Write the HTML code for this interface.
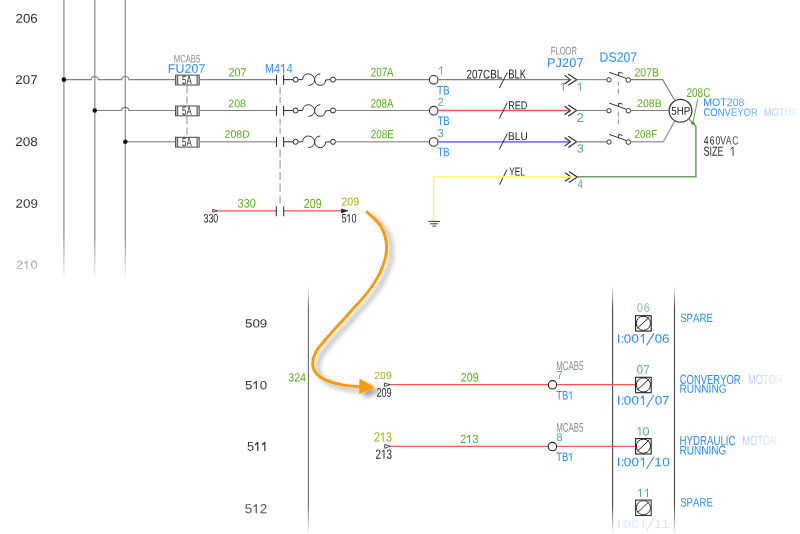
<!DOCTYPE html>
<html><head><meta charset="utf-8"><style>
html,body{margin:0;padding:0;background:#fff;}
svg{display:block;will-change:transform;}
text{font-family:"Liberation Sans",sans-serif;font-kerning:none;}
</style></head><body>
<svg width="800" height="534" viewBox="0 0 800 534">
<rect width="800" height="534" fill="#fff"/>

<defs>
  <linearGradient id="gtop" x1="0" y1="0" x2="0" y2="1" gradientUnits="objectBoundingBox">
    <stop offset="0" stop-color="#fff"/>
    <stop offset="0.84" stop-color="#fff"/>
    <stop offset="1" stop-color="#000"/>
  </linearGradient>
  <mask id="mtop" maskUnits="userSpaceOnUse" x="0" y="0" width="800" height="280">
    <rect x="0" y="0" width="800" height="280" fill="url(#gtop)"/>
  </mask>
  <linearGradient id="gbot" x1="0" y1="286" x2="0" y2="534" gradientUnits="userSpaceOnUse">
    <stop offset="0" stop-color="#000"/>
    <stop offset="0.09" stop-color="#fff"/>
    <stop offset="0.88" stop-color="#fff"/>
    <stop offset="1" stop-color="#000"/>
  </linearGradient>
  <mask id="mbot" maskUnits="userSpaceOnUse" x="0" y="280" width="800" height="254">
    <rect x="0" y="280" width="800" height="254" fill="url(#gbot)"/>
  </mask>
  <linearGradient id="fadeR1" x1="0" y1="0" x2="1" y2="0">
    <stop offset="0" stop-color="#2d8bff" stop-opacity="0.42"/>
    <stop offset="1" stop-color="#2d8bff" stop-opacity="0.1"/>
  </linearGradient>
  <linearGradient id="fadeR2" x1="0" y1="0" x2="1" y2="0">
    <stop offset="0" stop-color="#2d8bff" stop-opacity="0.42"/>
    <stop offset="1" stop-color="#2d8bff" stop-opacity="0.1"/>
  </linearGradient>
  <linearGradient id="fadeR3" x1="0" y1="0" x2="1" y2="0">
    <stop offset="0" stop-color="#2d8bff" stop-opacity="0.42"/>
    <stop offset="1" stop-color="#2d8bff" stop-opacity="0.12"/>
  </linearGradient>
  <linearGradient id="gright" x1="700" y1="0" x2="800" y2="0" gradientUnits="userSpaceOnUse">
    <stop offset="0.12" stop-color="#fff"/>
    <stop offset="0.57" stop-color="#fff" stop-opacity="0.6"/>
    <stop offset="0.65" stop-color="#fff" stop-opacity="0.45"/>
    <stop offset="1" stop-color="#fff" stop-opacity="0.08"/>
  </linearGradient>
  <mask id="mright" maskUnits="userSpaceOnUse" x="690" y="80" width="110" height="90">
    <rect x="690" y="80" width="110" height="90" fill="url(#gright)"/>
  </mask>
  <filter id="sh" x="-20%" y="-10%" width="150%" height="130%">
    <feGaussianBlur in="SourceAlpha" stdDeviation="2.5" result="b"/>
    <feOffset in="b" dx="4.5" dy="3.5" result="o"/>
    <feComponentTransfer in="o" result="s"><feFuncA type="linear" slope="0.38"/></feComponentTransfer>
    <feFlood flood-color="#000"/>
    <feComposite in2="s" operator="in" result="sc"/>
    <feMerge><feMergeNode in="sc"/><feMergeNode in="SourceGraphic"/></feMerge>
  </filter>
</defs>

<g mask="url(#mtop)">
<line x1="63.9" y1="0" x2="63.9" y2="278" stroke="#8a8a8a" stroke-width="1.2"/>
<line x1="94.8" y1="0" x2="94.8" y2="278" stroke="#8a8a8a" stroke-width="1.2"/>
<line x1="125.3" y1="0" x2="125.3" y2="278" stroke="#8a8a8a" stroke-width="1.2"/>
<path d="M63.9,79.65 L91.2,79.65 C91.2,75.45 98.39999999999999,75.45 98.39999999999999,79.65 L121.7,79.65 C121.7,75.45 128.9,75.45 128.9,79.65 L175.3,79.65" stroke="#808080" stroke-width="1.1" fill="none"/>
<path d="M94.8,110.5 L121.7,110.5 C121.7,106.3 128.9,106.3 128.9,110.5 L175.3,110.5" stroke="#808080" stroke-width="1.1" fill="none"/>
<path d="M125.3,141.8 L175.3,141.8" stroke="#a2a2a2" stroke-width="1.6" fill="none"/>
</g>
<circle cx="63.9" cy="79.65" r="2.3" stroke="#111" stroke-width="0" fill="#111"/>
<circle cx="94.8" cy="110.5" r="2.3" stroke="#111" stroke-width="0" fill="#111"/>
<circle cx="125.3" cy="141.8" r="2.3" stroke="#111" stroke-width="0" fill="#111"/>
<path d="M187.0,85.6 L187.0,93.4 M187.0,96.4 L187.0,103.4 M187.0,116.6 L187.0,124.3 M187.0,127.3 L187.0,134.6" stroke="#a8a8a8" stroke-width="1.3" fill="none"/>
<path d="M280.1,87.2 L280.1,94.5 M280.1,97.1 L280.1,103.0 M280.1,118.7 L280.1,125.3 M280.1,127.2 L280.1,133.8 M280.1,149.2 L280.1,157.0 M280.1,160.3 L280.1,168.8 M280.1,172.1 L280.1,180.0 M280.1,183.2 L280.1,191.8 M280.1,195.7 L280.1,203.6" stroke="#a8a8a8" stroke-width="1.3" fill="none"/>
<path d="M618.5,81.2 L618.5,85.8 M618.5,88.5 L618.5,93.7 M618.5,111.4 L618.5,116.6 M618.5,119.2 L618.5,124.5" stroke="#a0a0a0" stroke-width="1.2" fill="none"/>
<rect x="175.6" y="75.15" width="23.6" height="9.8" fill="#fff" stroke="#444" stroke-width="1"/>
<rect x="176.1" y="75.65" width="1.6" height="8.8" fill="#b0b0b0"/>
<rect x="197.1" y="75.65" width="1.6" height="8.8" fill="#b0b0b0"/>
<line x1="177.7" y1="75.15" x2="177.7" y2="84.95" stroke="#444" stroke-width="0.9"/>
<line x1="197.1" y1="75.15" x2="197.1" y2="84.95" stroke="#444" stroke-width="0.9"/>
<text transform="matrix(0.6470,0.001,0,1,182.09,83.93)" font-size="12.039" fill="#1e1e1e">5A</text>
<line x1="199.2" y1="79.65" x2="276.5" y2="79.65" stroke="#808080" stroke-width="1.1"/>
<line x1="276.5" y1="74.85000000000001" x2="276.5" y2="84.85000000000001" stroke="#333" stroke-width="1.1"/>
<line x1="283.6" y1="74.85000000000001" x2="283.6" y2="84.85000000000001" stroke="#333" stroke-width="1.1"/>
<line x1="283.6" y1="79.65" x2="293" y2="79.65" stroke="#333" stroke-width="1.1"/>
<circle cx="295.6" cy="79.65" r="2.5" stroke="#222" stroke-width="1.0" fill="#fff"/>
<path d="M298.1,79.65 L302.6,79.65 L302.9,78.05000000000001 C303.5,75.05000000000001 306,73.85000000000001 308.5,73.85000000000001 C312,73.85000000000001 314.5,76.85000000000001 314.6,79.65 C314.7,82.65 312.5,85.15 308.3,85.45" stroke="#333" stroke-width="1.0" fill="none"/>
<path d="M320.3,73.85000000000001 C317,73.85000000000001 314.6,76.65 314.6,79.65 C314.6,82.85000000000001 317,85.45 320.3,85.45 C323.5,85.45 325.4,83.15 325.6,79.95 L330.4,79.65" stroke="#333" stroke-width="1.0" fill="none"/>
<circle cx="333.0" cy="79.65" r="2.5" stroke="#222" stroke-width="1.0" fill="#fff"/>
<line x1="335.5" y1="79.65" x2="429.3" y2="79.65" stroke="#808080" stroke-width="1.1"/>
<rect x="175.6" y="106.0" width="23.6" height="9.8" fill="#fff" stroke="#444" stroke-width="1"/>
<rect x="176.1" y="106.5" width="1.6" height="8.8" fill="#b0b0b0"/>
<rect x="197.1" y="106.5" width="1.6" height="8.8" fill="#b0b0b0"/>
<line x1="177.7" y1="106.0" x2="177.7" y2="115.8" stroke="#444" stroke-width="0.9"/>
<line x1="197.1" y1="106.0" x2="197.1" y2="115.8" stroke="#444" stroke-width="0.9"/>
<text transform="matrix(0.6470,0.001,0,1,182.09,114.78)" font-size="12.039" fill="#1e1e1e">5A</text>
<line x1="199.2" y1="110.5" x2="276.5" y2="110.5" stroke="#808080" stroke-width="1.1"/>
<line x1="276.5" y1="105.7" x2="276.5" y2="115.7" stroke="#333" stroke-width="1.1"/>
<line x1="283.6" y1="105.7" x2="283.6" y2="115.7" stroke="#333" stroke-width="1.1"/>
<line x1="283.6" y1="110.5" x2="293" y2="110.5" stroke="#333" stroke-width="1.1"/>
<circle cx="295.6" cy="110.5" r="2.5" stroke="#222" stroke-width="1.0" fill="#fff"/>
<path d="M298.1,110.5 L302.6,110.5 L302.9,108.9 C303.5,105.9 306,104.7 308.5,104.7 C312,104.7 314.5,107.7 314.6,110.5 C314.7,113.5 312.5,116.0 308.3,116.3" stroke="#333" stroke-width="1.0" fill="none"/>
<path d="M320.3,104.7 C317,104.7 314.6,107.5 314.6,110.5 C314.6,113.7 317,116.3 320.3,116.3 C323.5,116.3 325.4,114.0 325.6,110.8 L330.4,110.5" stroke="#333" stroke-width="1.0" fill="none"/>
<circle cx="333.0" cy="110.5" r="2.5" stroke="#222" stroke-width="1.0" fill="#fff"/>
<line x1="335.5" y1="110.5" x2="429.3" y2="110.5" stroke="#808080" stroke-width="1.1"/>
<rect x="175.6" y="137.3" width="23.6" height="9.8" fill="#fff" stroke="#444" stroke-width="1"/>
<rect x="176.1" y="137.8" width="1.6" height="8.8" fill="#b0b0b0"/>
<rect x="197.1" y="137.8" width="1.6" height="8.8" fill="#b0b0b0"/>
<line x1="177.7" y1="137.3" x2="177.7" y2="147.10000000000002" stroke="#444" stroke-width="0.9"/>
<line x1="197.1" y1="137.3" x2="197.1" y2="147.10000000000002" stroke="#444" stroke-width="0.9"/>
<text transform="matrix(0.6470,0.001,0,1,182.09,146.08)" font-size="12.039" fill="#1e1e1e">5A</text>
<line x1="199.2" y1="141.8" x2="276.5" y2="141.8" stroke="#a2a2a2" stroke-width="1.6"/>
<line x1="276.5" y1="137.0" x2="276.5" y2="147.0" stroke="#333" stroke-width="1.1"/>
<line x1="283.6" y1="137.0" x2="283.6" y2="147.0" stroke="#333" stroke-width="1.1"/>
<line x1="283.6" y1="141.8" x2="293" y2="141.8" stroke="#333" stroke-width="1.1"/>
<circle cx="295.6" cy="141.8" r="2.5" stroke="#222" stroke-width="1.0" fill="#fff"/>
<path d="M298.1,141.8 L302.6,141.8 L302.9,140.20000000000002 C303.5,137.20000000000002 306,136.0 308.5,136.0 C312,136.0 314.5,139.0 314.6,141.8 C314.7,144.8 312.5,147.3 308.3,147.60000000000002" stroke="#333" stroke-width="1.0" fill="none"/>
<path d="M320.3,136.0 C317,136.0 314.6,138.8 314.6,141.8 C314.6,145.0 317,147.60000000000002 320.3,147.60000000000002 C323.5,147.60000000000002 325.4,145.3 325.6,142.10000000000002 L330.4,141.8" stroke="#333" stroke-width="1.0" fill="none"/>
<circle cx="333.0" cy="141.8" r="2.5" stroke="#222" stroke-width="1.0" fill="#fff"/>
<line x1="335.5" y1="141.8" x2="429.3" y2="141.8" stroke="#a2a2a2" stroke-width="1.6"/>
<circle cx="433.7" cy="79.85000000000001" r="4.3" stroke="#333" stroke-width="1.1" fill="#fff"/>
<circle cx="433.7" cy="110.7" r="4.3" stroke="#333" stroke-width="1.1" fill="#fff"/>
<circle cx="433.7" cy="142.0" r="4.3" stroke="#333" stroke-width="1.1" fill="#fff"/>
<line x1="438.0" y1="79.65" x2="569.5" y2="79.65" stroke="#808080" stroke-width="1.1"/>
<line x1="438.0" y1="110.5" x2="569.0" y2="110.5" stroke="#ff5555" stroke-width="1.3"/>
<line x1="438.0" y1="141.8" x2="569.0" y2="141.8" stroke="#7c7cff" stroke-width="1.8"/>
<line x1="499.3" y1="88.2" x2="507.3" y2="72.4" stroke="#222" stroke-width="1.0"/>
<line x1="499.3" y1="118.5" x2="507.3" y2="102.6" stroke="#222" stroke-width="1.0"/>
<line x1="499.3" y1="149.5" x2="507.3" y2="133.6" stroke="#222" stroke-width="1.0"/>
<line x1="499.5" y1="184.7" x2="507.0" y2="169.7" stroke="#222" stroke-width="1.0"/>
<path d="M564.5,75.35000000000001 L570.5,79.65 L564.5,83.95" stroke="#2a2a2a" stroke-width="1.15" fill="none"/>
<path d="M568.3000000000001,74.05000000000001 L576.7,79.65 L568.3000000000001,85.25" stroke="#2a2a2a" stroke-width="1.15" fill="none"/>
<path d="M564.5,106.2 L570.5,110.5 L564.5,114.8" stroke="#2a2a2a" stroke-width="1.15" fill="none"/>
<path d="M568.3000000000001,104.9 L576.7,110.5 L568.3000000000001,116.1" stroke="#2a2a2a" stroke-width="1.15" fill="none"/>
<path d="M564.5,137.5 L570.5,141.8 L564.5,146.10000000000002" stroke="#2a2a2a" stroke-width="1.15" fill="none"/>
<path d="M568.3000000000001,136.20000000000002 L576.7,141.8 L568.3000000000001,147.4" stroke="#2a2a2a" stroke-width="1.15" fill="none"/>
<path d="M565.0999999999999,172.7 L571.0999999999999,177.0 L565.0999999999999,181.3" stroke="#2a2a2a" stroke-width="1.15" fill="none"/>
<path d="M568.9,171.4 L577.3,177.0 L568.9,182.6" stroke="#2a2a2a" stroke-width="1.15" fill="none"/>
<line x1="576.7" y1="79.65" x2="606.8" y2="79.65" stroke="#808080" stroke-width="1.1"/>
<circle cx="609.0" cy="79.85000000000001" r="2.2" stroke="#333" stroke-width="1.0" fill="#fff"/>
<circle cx="628.3" cy="79.95" r="2.3" stroke="#333" stroke-width="1.0" fill="#fff"/>
<path d="M609.2,72.25 L626.2,78.35000000000001" stroke="#333" stroke-width="1.0" fill="none"/>
<path d="M618.5,75.55000000000001 L618.8,72.15 L622.5,73.35000000000001" stroke="#333" stroke-width="1.0" fill="none"/>
<line x1="576.7" y1="110.5" x2="606.8" y2="110.5" stroke="#808080" stroke-width="1.1"/>
<circle cx="609.0" cy="110.7" r="2.2" stroke="#333" stroke-width="1.0" fill="#fff"/>
<circle cx="628.3" cy="110.8" r="2.3" stroke="#333" stroke-width="1.0" fill="#fff"/>
<path d="M609.2,103.1 L626.2,109.2" stroke="#333" stroke-width="1.0" fill="none"/>
<path d="M618.5,106.4 L618.8,103.0 L622.5,104.2" stroke="#333" stroke-width="1.0" fill="none"/>
<line x1="576.7" y1="141.8" x2="606.8" y2="141.8" stroke="#a0a0a0" stroke-width="1.7"/>
<circle cx="609.0" cy="142.0" r="2.2" stroke="#333" stroke-width="1.0" fill="#fff"/>
<circle cx="628.3" cy="142.10000000000002" r="2.3" stroke="#333" stroke-width="1.0" fill="#fff"/>
<path d="M609.2,134.4 L626.2,140.5" stroke="#333" stroke-width="1.0" fill="none"/>
<path d="M618.5,137.70000000000002 L618.8,134.3 L622.5,135.5" stroke="#333" stroke-width="1.0" fill="none"/>
<path d="M630.6,79.65 L662.7,79.65 L674.7,100.2" stroke="#808080" stroke-width="1.1" fill="none"/>
<line x1="630.6" y1="110.5" x2="669.0" y2="110.5" stroke="#808080" stroke-width="1.1"/>
<path d="M630.6,141.8 L663.3,141.8 L674.5,121.3" stroke="#a2a2a2" stroke-width="1.5" fill="none"/>
<circle cx="680.5" cy="110.8" r="11.4" stroke="#3a3a3a" stroke-width="1.25" fill="#fff"/>
<path d="M688.6,118.6 L695.9,126.2 L695.9,176.8 L577.3,176.8" stroke="#749c66" stroke-width="1.5" fill="none"/>
<path d="M572,177.1 L433.6,177.1 L433.6,220.9" stroke="#ffff5a" stroke-width="1.5" fill="none"/>
<line x1="428.3" y1="221.4" x2="439.9" y2="221.4" stroke="#333" stroke-width="1.0"/>
<line x1="430.3" y1="223.8" x2="437.9" y2="223.8" stroke="#333" stroke-width="1.0"/>
<line x1="432.4" y1="226.1" x2="435.9" y2="226.1" stroke="#333" stroke-width="1.0"/>
<path d="M697.7,99.3 L692.8,123.4" stroke="#5aa03a" stroke-width="1.0" fill="none"/>
<circle cx="692.9" cy="123.2" r="1.3" stroke="#5aa03a" stroke-width="0.8" fill="#5aa03a"/>
<line x1="217.5" y1="210.9" x2="276.3" y2="210.9" stroke="#ff5555" stroke-width="1.3"/>
<line x1="283.7" y1="210.9" x2="341.3" y2="210.9" stroke="#ff5555" stroke-width="1.3"/>
<line x1="276.3" y1="206.3" x2="276.3" y2="216.3" stroke="#333" stroke-width="1.1"/>
<line x1="283.7" y1="206.3" x2="283.7" y2="216.3" stroke="#333" stroke-width="1.1"/>
<path d="M212.6,209.3 L217.6,210.9 L212.6,212.1 Z" stroke="#222" stroke-width="0.8" fill="#fff"/>
<path d="M341.4,209.0 L347.9,210.7 L341.4,212.9 Z" stroke="#222" stroke-width="0.6" fill="#222"/>
<text transform="matrix(1.0411,0.001,0,1,15.58,22.68)" font-size="12.782" fill="#333333">206</text>
<text transform="matrix(1.0537,0.001,0,1,15.33,83.88)" font-size="12.712" fill="#333333">207</text>
<text transform="matrix(1.0616,0.001,0,1,15.32,145.88)" font-size="12.712" fill="#333333">208</text>
<text transform="matrix(1.0818,0.001,0,1,15.58,207.63)" font-size="12.359" fill="#333333">209</text>
<text transform="matrix(1.1074,0.001,0,1,15.95,268.79)" x="0.00 13.04" y="0" font-size="11.723" fill="#ababab">20</text>
<path d="M24.71,263.22 L27.01,261.22 L27.01,268.39" stroke="#ababab" stroke-width="1.0964579310344775" fill="none" stroke-linecap="round" stroke-linejoin="round"/>
<text transform="matrix(0.7087,0.001,0,1,173.77,62.39)" font-size="10.876" fill="#8a8a8a">MCAB5</text>
<text transform="matrix(1.0000,0.001,0,1,167.78,72.68)" font-size="12.429" letter-spacing="0.085" fill="#2d8bff">FU207</text>
<text transform="matrix(0.9031,0.001,0,1,228.45,76.38)" font-size="12.006" fill="#5cae22">207</text>
<text transform="matrix(0.8500,0.001,0,1,265.80,72.80)" x="-1.04 9.59 24.65" y="0" font-size="12.646" fill="#2d8bff">M44</text>
<path d="M281.30,66.30 L283.60,64.30 L283.60,72.60" stroke="#2d8bff" stroke-width="1.1" fill="none" stroke-linecap="round" stroke-linejoin="round"/>
<text transform="matrix(0.9561,0.001,0,1,228.26,107.19)" font-size="11.158" fill="#5cae22">208</text>
<text transform="matrix(1.0000,0.001,0,1,224.47,137.70)" font-size="10.593" letter-spacing="0.039" fill="#5cae22">208D</text>
<text transform="matrix(0.7752,0.001,0,1,370.70,76.38)" font-size="12.712" fill="#5cae22">207A</text>
<text transform="matrix(0.7913,0.001,0,1,370.71,107.38)" font-size="12.288" fill="#5cae22">208A</text>
<text transform="matrix(0.8247,0.001,0,1,370.70,138.18)" font-size="12.006" fill="#5cae22">208E</text>
<path d="M439.30,68.60 L441.60,66.60 L441.60,74.20" stroke="#52ab8d" stroke-width="1.0" fill="none" stroke-linecap="round" stroke-linejoin="round"/>
<text transform="matrix(0.8240,0.001,0,1,436.97,94.40)" font-size="12.210" fill="#2d8bff">TB</text>
<text transform="matrix(1.0283,0.001,0,1,437.41,105.80)" font-size="11.314" fill="#52ab8d">2</text>
<text transform="matrix(0.7900,0.001,0,1,437.38,125.00)" font-size="12.210" fill="#2d8bff">TB</text>
<text transform="matrix(0.9422,0.001,0,1,437.57,137.18)" font-size="11.864" fill="#52ab8d">3</text>
<text transform="matrix(0.7716,0.001,0,1,437.38,156.20)" font-size="12.500" fill="#2d8bff">TB</text>
<text transform="matrix(0.7799,0.001,0,1,466.50,78.48)" font-size="12.712" fill="#1e1e1e">207CBL</text>
<text transform="matrix(0.7232,0.001,0,1,508.22,78.60)" font-size="13.082" fill="#1e1e1e">BLK</text>
<text transform="matrix(0.7955,0.001,0,1,508.15,109.30)" font-size="11.483" fill="#1e1e1e">RED</text>
<text transform="matrix(0.8838,0.001,0,1,508.07,139.89)" font-size="11.465" fill="#1e1e1e">BLU</text>
<text transform="matrix(0.7119,0.001,0,1,509.32,175.40)" font-size="11.483" fill="#1e1e1e">YEL</text>
<text transform="matrix(0.6837,0.001,0,1,550.77,54.49)" font-size="11.158" fill="#8a8a8a">FLOOR</text>
<text transform="matrix(1.0000,0.001,0,1,546.96,66.88)" font-size="12.712" letter-spacing="0.135" fill="#2d8bff">PJ207</text>
<path d="M561.10,84.80 L563.40,82.80 L563.40,90.30" stroke="#52ab8d" stroke-width="1.0" fill="none" stroke-linecap="round" stroke-linejoin="round"/>
<path d="M578.10,84.80 L580.40,82.80 L580.40,90.30" stroke="#52ab8d" stroke-width="1.0" fill="none" stroke-linecap="round" stroke-linejoin="round"/>
<text transform="matrix(1.0505,0.001,0,1,576.53,122.00)" font-size="12.746" fill="#52ab8d">2</text>
<text transform="matrix(1.0844,0.001,0,1,576.71,152.58)" font-size="11.864" fill="#52ab8d">3</text>
<text transform="matrix(0.8192,0.001,0,1,577.38,188.00)" font-size="11.628" fill="#52ab8d">4</text>
<text transform="matrix(0.9076,0.001,0,1,599.59,61.77)" font-size="13.559" fill="#2d8bff">DS207</text>
<text transform="matrix(0.8768,0.001,0,1,634.47,76.38)" font-size="12.006" fill="#5cae22">207B</text>
<text transform="matrix(0.9636,0.001,0,1,637.07,106.89)" font-size="11.017" fill="#5cae22">208B</text>
<text transform="matrix(0.8884,0.001,0,1,634.50,137.79)" font-size="11.158" fill="#5cae22">208F</text>
<text transform="matrix(0.8522,0.001,0,1,671.21,114.79)" font-size="11.465" fill="#1e1e1e">5HP</text>
<text transform="matrix(0.7859,0.001,0,1,686.50,96.88)" font-size="12.712" fill="#5cae22">208C</text>
<g mask="url(#mright)">
<text transform="matrix(0.9770,0.001,0,1,703.13,105.89)" font-size="10.876" fill="#2d8bff">MOT208</text>
<text transform="matrix(0.8616,0.001,0,1,703.52,115.89)" font-size="11.017" fill="#2d8bff">CONVEYOR</text>
<text transform="matrix(0.8538,0.001,0,1,763.63,115.89)" font-size="11.017" fill="#2d8bff">MOTOR</text>
<text transform="matrix(0.7200,0.001,0,1,703.90,144.38)" x="-0.28 8.28 16.06 22.59 30.25 39.53" y="0" font-size="12.006" fill="#1e1e1e">460VAC</text>
<text transform="matrix(0.6920,0.001,0,1,703.49,155.77)" font-size="13.135" fill="#1e1e1e">SIZE</text>
<path d="M730.80,149.00 L733.10,147.00 L733.10,155.50" stroke="#1e1e1e" stroke-width="1.0" fill="none" stroke-linecap="round" stroke-linejoin="round"/>
</g>
<text transform="matrix(0.8949,0.001,0,1,237.58,207.38)" font-size="12.359" fill="#5cae22">330</text>
<text transform="matrix(0.7246,0.001,0,1,203.41,222.38)" font-size="12.359" fill="#1e1e1e">330</text>
<text transform="matrix(0.8123,0.001,0,1,303.86,207.97)" font-size="13.206" fill="#5cae22">209</text>
<text transform="matrix(0.9376,0.001,0,1,341.36,205.49)" font-size="11.441" fill="#abab1e">209</text>
<text transform="matrix(0.7306,0.001,0,1,341.54,222.38)" x="0.00 13.75" y="0" font-size="12.359" fill="#1e1e1e">50</text>
<path d="M346.93,216.38 L349.23,214.38 L349.23,221.98" stroke="#1e1e1e" stroke-width="0.9" fill="none" stroke-linecap="round" stroke-linejoin="round"/>
<g mask="url(#mbot)">
<line x1="308.4" y1="286" x2="308.4" y2="534" stroke="#6a6a6a" stroke-width="1.1"/>
<line x1="612.6" y1="286" x2="612.6" y2="534" stroke="#444" stroke-width="1.1"/>
<line x1="674.5" y1="286" x2="674.5" y2="534" stroke="#444" stroke-width="1.1"/>
</g>
<line x1="390.0" y1="384.7" x2="635.3" y2="384.7" stroke="#ff5555" stroke-width="1.3"/>
<line x1="390.0" y1="446.4" x2="635.3" y2="446.4" stroke="#ff5555" stroke-width="1.3"/>
<path d="M384.4,383.1 L390.0,384.7 L384.4,386.5 Z" stroke="#222" stroke-width="0.8" fill="#fff"/>
<path d="M384.7,444.4 L390.2,446.3 L384.7,448.3 Z" stroke="#222" stroke-width="0.8" fill="#fff"/>
<circle cx="552.5" cy="384.8" r="4.2" stroke="#222" stroke-width="1.1" fill="#fff"/>
<circle cx="552.4" cy="446.6" r="4.2" stroke="#222" stroke-width="1.1" fill="#fff"/>
<g opacity="1">
<rect x="635.6" y="315.7" width="15.6" height="15.4" fill="#fff" stroke="#222" stroke-width="1.1"/>
<circle cx="643.4" cy="323.3" r="7.1" stroke="#222" stroke-width="1.0" fill="none"/>
<line x1="637.4" y1="328.3" x2="649.6" y2="316.8" stroke="#222" stroke-width="1.0"/>
</g>
<g opacity="1">
<rect x="635.6" y="377.29999999999995" width="15.6" height="15.4" fill="#fff" stroke="#222" stroke-width="1.1"/>
<circle cx="643.4" cy="384.9" r="7.1" stroke="#222" stroke-width="1.0" fill="none"/>
<line x1="637.4" y1="389.9" x2="649.6" y2="378.4" stroke="#222" stroke-width="1.0"/>
</g>
<g opacity="1">
<rect x="635.6" y="438.59999999999997" width="15.6" height="15.4" fill="#fff" stroke="#222" stroke-width="1.1"/>
<circle cx="643.4" cy="446.2" r="7.1" stroke="#222" stroke-width="1.0" fill="none"/>
<line x1="637.4" y1="451.2" x2="649.6" y2="439.7" stroke="#222" stroke-width="1.0"/>
</g>
<g opacity="0.9">
<rect x="635.6" y="500.09999999999997" width="15.6" height="15.4" fill="#fff" stroke="#222" stroke-width="1.1"/>
<circle cx="643.4" cy="507.7" r="7.1" stroke="#222" stroke-width="1.0" fill="none"/>
<line x1="637.4" y1="512.7" x2="649.6" y2="501.2" stroke="#222" stroke-width="1.0"/>
</g>
<text transform="matrix(1.1302,0.001,0,1,244.96,327.58)" font-size="11.864" fill="#333333">509</text>
<text transform="matrix(1.1111,0.001,0,1,244.97,389.18)" x="0.00 13.35" y="0" font-size="12.006" fill="#333333">50</text>
<path d="M254.03,383.42 L256.33,381.42 L256.33,388.78" stroke="#333333" stroke-width="1.1204689655172415" fill="none" stroke-linecap="round" stroke-linejoin="round"/>
<text transform="matrix(0.9865,0.001,0,1,246.89,450.87)" x="0.00" y="0" font-size="12.899" fill="#333333">5</text>
<path d="M255.43,444.50 L257.73,442.50 L257.73,450.47" stroke="#333333" stroke-width="1.181609891808346" fill="none" stroke-linecap="round" stroke-linejoin="round"/>
<path d="M262.51,444.50 L264.81,442.50 L264.81,450.47" stroke="#333333" stroke-width="1.181609891808346" fill="none" stroke-linecap="round" stroke-linejoin="round"/>
<text transform="matrix(1.0166,0.001,0,1,244.76,513.27)" x="0.00 14.77" y="0" font-size="13.277" fill="#555555">52</text>
<path d="M253.96,506.64 L256.26,504.64 L256.26,512.87" stroke="#555555" stroke-width="1.2285186206896526" fill="none" stroke-linecap="round" stroke-linejoin="round"/>
<text transform="matrix(0.8948,0.001,0,1,288.19,381.58)" font-size="12.006" fill="#5cae22">324</text>
<text transform="matrix(1.0000,0.001,0,1,374.17,378.90)" font-size="10.452" letter-spacing="0.066" fill="#abab1e">209</text>
<text transform="matrix(0.7350,0.001,0,1,376.44,396.78)" font-size="12.429" fill="#1e1e1e">209</text>
<text transform="matrix(0.8857,0.001,0,1,460.86,381.48)" font-size="12.147" fill="#5cae22">209</text>
<text transform="matrix(0.6275,0.001,0,1,556.25,369.88)" font-size="12.570" fill="#8a8a8a">MCAB5</text>
<text transform="matrix(0.8891,0.001,0,1,556.77,378.90)" font-size="11.628" fill="#52ab8d">7</text>
<text transform="matrix(0.7714,0.001,0,1,556.19,399.50)" x="0.00 7.55" y="0" font-size="12.355" fill="#2d8bff">TB</text>
<path d="M568.88,393.50 L571.18,391.50 L571.18,399.10" stroke="#2d8bff" stroke-width="0.9101229916897541" fill="none" stroke-linecap="round" stroke-linejoin="round"/>
<text transform="matrix(0.8096,0.001,0,1,373.95,441.57)" x="0.00 14.92" y="0" font-size="13.418" fill="#abab1e">23</text>
<path d="M380.91,434.84 L383.21,432.84 L383.21,441.17" stroke="#abab1e" stroke-width="1.0233151364764284" fill="none" stroke-linecap="round" stroke-linejoin="round"/>
<text transform="matrix(0.7338,0.001,0,1,375.60,458.67)" x="0.00 14.92" y="0" font-size="13.418" fill="#1e1e1e">23</text>
<path d="M381.69,451.94 L383.99,449.94 L383.99,458.27" stroke="#1e1e1e" stroke-width="0.936923076923077" fill="none" stroke-linecap="round" stroke-linejoin="round"/>
<text transform="matrix(0.9156,0.001,0,1,460.35,442.88)" x="0.00 13.20" y="0" font-size="11.864" fill="#5cae22">23</text>
<path d="M467.31,437.22 L469.61,435.22 L469.61,442.48" stroke="#5cae22" stroke-width="1.0233151364764281" fill="none" stroke-linecap="round" stroke-linejoin="round"/>
<text transform="matrix(0.6275,0.001,0,1,556.25,431.78)" font-size="12.570" fill="#8a8a8a">MCAB5</text>
<text transform="matrix(0.9161,0.001,0,1,556.43,441.08)" font-size="11.864" fill="#52ab8d">8</text>
<text transform="matrix(0.7806,0.001,0,1,556.19,460.90)" x="0.00 7.46" y="0" font-size="12.210" fill="#2d8bff">TB</text>
<path d="M568.88,455.00 L571.18,453.00 L571.18,460.50" stroke="#2d8bff" stroke-width="0.910122991689754" fill="none" stroke-linecap="round" stroke-linejoin="round"/>
<text transform="matrix(0.9000,0.001,0,1,637.30,311.78)" x="-0.48 7.15" y="0" font-size="12.288" fill="#84c0a4">06</text>
<g opacity="1.0">
<text transform="matrix(1.1000,0.001,0,1,618.10,342.78)" x="-1.12 2.35 5.25 12.07 33.25 39.93" y="0" font-size="12.147" fill="#2d8bff">I:0006</text>
<path d="M641.10,336.40 L643.40,334.40 L643.40,342.80" stroke="#2d8bff" stroke-width="1.1" fill="none" stroke-linecap="round" stroke-linejoin="round"/>
<line x1="653.9" y1="333.40000000000003" x2="646.5" y2="345.5" stroke="#2d8bff" stroke-width="1.1"/>
</g>
<text transform="matrix(0.9000,0.001,0,1,637.30,373.68)" x="-0.49 6.81" y="0" font-size="12.429" fill="#52ab8d">07</text>
<g opacity="1.0">
<text transform="matrix(1.1000,0.001,0,1,618.10,404.48)" x="-1.13 2.33 5.25 12.07 33.25 39.92" y="0" font-size="12.288" fill="#2d8bff">I:0007</text>
<path d="M641.10,398.00 L643.40,396.00 L643.40,404.50" stroke="#2d8bff" stroke-width="1.1" fill="none" stroke-linecap="round" stroke-linejoin="round"/>
<line x1="653.9" y1="395.0" x2="646.5" y2="407.20000000000005" stroke="#2d8bff" stroke-width="1.1"/>
</g>
<path d="M637.70,429.40 L640.00,427.40 L640.00,435.30" stroke="#52ab8d" stroke-width="1.0" fill="none" stroke-linecap="round" stroke-linejoin="round"/>
<text transform="matrix(1.0455,0.001,0,1,642.61,435.48)" font-size="12.006" fill="#52ab8d">0</text>
<g opacity="1.0">
<text transform="matrix(1.1000,0.001,0,1,618.10,466.28)" x="-1.13 2.33 5.25 12.07 32.79 40.07" y="0" font-size="12.288" fill="#2d8bff">I:0010</text>
<path d="M641.10,459.80 L643.40,457.80 L643.40,466.30" stroke="#2d8bff" stroke-width="1.1" fill="none" stroke-linecap="round" stroke-linejoin="round"/>
<line x1="653.9" y1="456.8" x2="646.5" y2="469.0" stroke="#2d8bff" stroke-width="1.1"/>
</g>
<path d="M638.30,491.00 L640.60,489.00 L640.60,496.60" stroke="#52ab8d" stroke-width="1.0" fill="none" stroke-linecap="round" stroke-linejoin="round"/>
<path d="M645.20,491.00 L647.50,489.00 L647.50,496.60" stroke="#52ab8d" stroke-width="1.0" fill="none" stroke-linecap="round" stroke-linejoin="round"/>
<g opacity="0.2">
<text transform="matrix(1.1000,0.001,0,1,618.10,527.88)" x="-1.13 2.33 5.25 12.07 32.79 39.61" y="0" font-size="12.288" fill="#2d8bff">I:0011</text>
<path d="M641.10,521.40 L643.40,519.40 L643.40,527.90" stroke="#2d8bff" stroke-width="1.1" fill="none" stroke-linecap="round" stroke-linejoin="round"/>
<line x1="653.9" y1="518.4" x2="646.5" y2="530.6" stroke="#2d8bff" stroke-width="1.1"/>
</g>
<text transform="matrix(0.8073,0.001,0,1,680.16,321.98)" font-size="12.006" fill="#2d8bff">SPARE</text>
<text transform="matrix(0.7107,0.001,0,1,679.82,383.87)" font-size="13.277" fill="#2d8bff">CONVERYOR</text>
<text transform="matrix(0.7064,0.001,0,1,747.93,383.87)" font-size="13.277" fill="url(#fadeR2)">MOTOR</text>
<text transform="matrix(0.8404,0.001,0,1,679.47,392.68)" font-size="12.006" fill="#2d8bff">RUNNING</text>
<text transform="matrix(0.7307,0.001,0,1,679.50,445.07)" font-size="13.277" fill="#2d8bff">HYDRAULIC</text>
<text transform="matrix(0.7064,0.001,0,1,742.23,445.07)" font-size="13.277" fill="url(#fadeR3)">MOTOR</text>
<text transform="matrix(0.8117,0.001,0,1,679.47,454.48)" font-size="12.429" fill="#2d8bff">RUNNING</text>
<text transform="matrix(0.7979,0.001,0,1,680.16,506.48)" font-size="12.147" fill="#2d8bff">SPARE</text>
<g filter="url(#sh)">
<path d="M366.3,211.3 C368.75,213.83 377.62,220.55 381,226.5 C384.38,232.45 386.37,240.25 386.6,247 C386.83,253.75 385.27,259.83 382.4,267 C379.53,274.17 375.30,281.92 369.4,290 C363.50,298.08 354.38,307.17 347,315.5 C339.62,323.83 330.35,333.83 325.1,340 C319.85,346.17 317.57,348.38 315.5,352.5 C313.43,356.62 312.53,361.20 312.7,364.7 C312.87,368.20 314.35,370.93 316.5,373.5 C318.65,376.07 321.35,378.22 325.6,380.1 C329.85,381.98 336.10,383.68 342,384.8 C347.90,385.92 357.83,386.47 361,386.8" stroke="#ff9900" stroke-width="2.9" fill="none" stroke-linecap="butt"/>
<path d="M359.8,379.0 L374.3,387.3 L359.3,393.8 Z" stroke="#ff9900" stroke-width="0.5" fill="#ff9900"/>
</g>
</svg>
</body></html>
